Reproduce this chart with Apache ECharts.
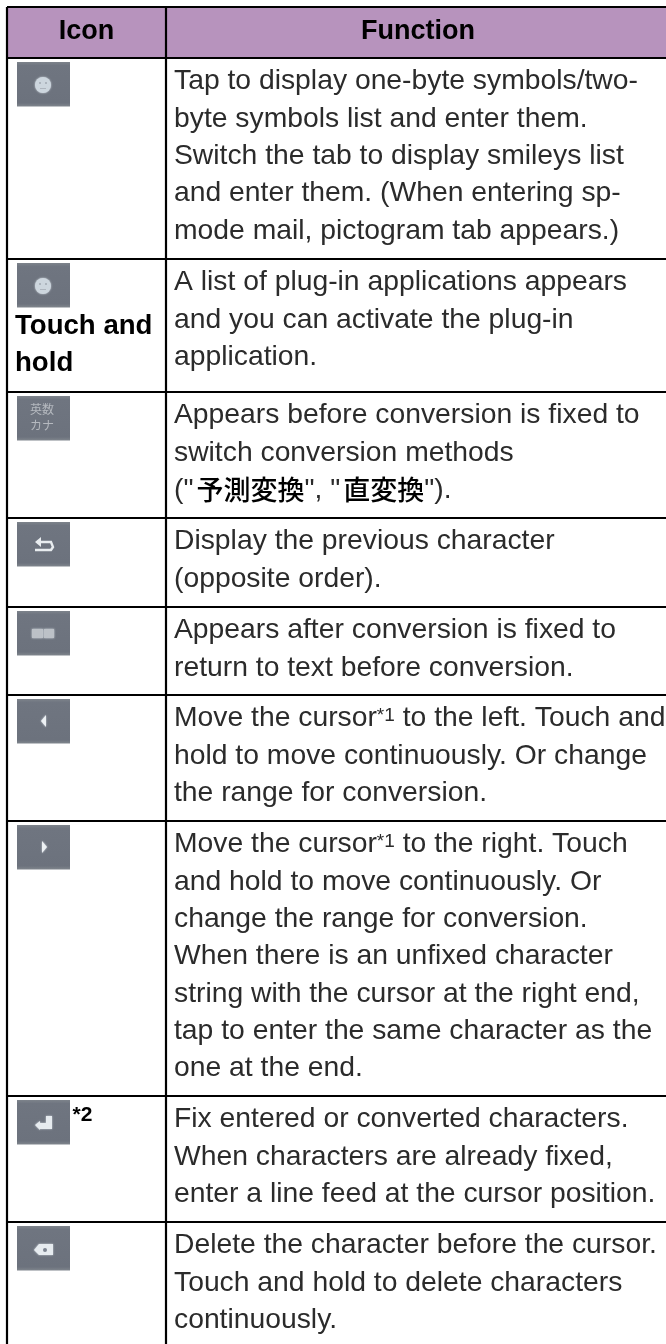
<!DOCTYPE html>
<html><head><meta charset="utf-8">
<style>html,body{margin:0;padding:0;background:#fff}#c{width:666px;height:1344px;filter:blur(0.45px)}</style>
<script src="https://cdn.jsdelivr.net/npm/echarts@6/dist/echarts.min.js"></script>
</head><body><div id="c"></div>
<script>
const headers = ['Icon', 'Function'];
const rowEdges = [58, 259, 392, 518, 607, 695, 821, 1096, 1222, 1344];
const iconKinds = ['smile', 'smile', 'kana', 'undo', 'revert', 'left', 'right', 'enter', 'del'];
const iconNotes = [[], ['Touch and', 'hold'], [], [], [], [], [], [], []];
const iconMarks = ['', '', '', '', '', '', '', '*2', ''];
const functionLines = [
  ['Tap to display one-byte symbols/two-', 'byte symbols list and enter them.', 'Switch the tab to display smileys list', 'and enter them. (When entering sp-', 'mode mail, pictogram tab appears.)'],
  ['A list of plug-in applications appears', 'and you can activate the plug-in', 'application.'],
  ['Appears before conversion is fixed to', 'switch conversion methods', '("{cjk|予測変換}", "{cjk|直変換}").'],
  ['Display the previous character', '(opposite order).'],
  ['Appears after conversion is fixed to', 'return to text before conversion.'],
  ['Move the cursor{sup|*1} to the left. Touch and', 'hold to move continuously. Or change', 'the range for conversion.'],
  ['Move the cursor{sup|*1} to the right. Touch', 'and hold to move continuously. Or', 'change the range for conversion.', 'When there is an unfixed character', 'string with the cursor at the right end,', 'tap to enter the same character as the', 'one at the end.'],
  ['Fix entered or converted characters.', 'When characters are already fixed,', 'enter a line feed at the cursor position.'],
  ['Delete the character before the cursor.', 'Touch and hold to delete characters', 'continuously.']
];

const FONT = '"Liberation Sans","Noto Sans CJK JP",sans-serif';
const W = 666, H = 1344, TOP = 7, LEFT = 7, COL = 166;
const FS = 28.3, BFS = 27.6, LH = 37.3, TEXT = '#2b2b2b';

function glyph(kind, c) {
  const pale = '#d6dde4', blur = {shadowBlur: 2, shadowColor: pale};
  const cx = c[0] + 26, cy = c[1] + 22;
  switch (kind) {
    case 'smile': return [
      {type: 'circle', shape: {cx, cy: cy + 1, r: 8}, style: {fill: '#cdd6de', ...blur}},
      {type: 'circle', shape: {cx: cx - 3, cy: cy - 1, r: 1}, style: {fill: '#a0a8b2'}},
      {type: 'circle', shape: {cx: cx + 3, cy: cy - 1, r: 1}, style: {fill: '#a0a8b2'}},
      {type: 'rect', shape: {x: cx - 3, y: cy + 4, width: 6, height: 1}, style: {fill: '#aeb5be'}}
    ];
    case 'kana': return [
      {type: 'text', style: {text: '英数', x: cx - 1, y: cy - 7, align: 'center', verticalAlign: 'middle', fill: '#b5b9bf', font: '12px ' + FONT}},
      {type: 'text', style: {text: 'カナ', x: cx - 1, y: cy + 9, align: 'center', verticalAlign: 'middle', fill: '#b5b9bf', font: '12px ' + FONT}}
    ];
    case 'undo': return [
      {type: 'polyline', shape: {points: [[cx - 8, cy + 6], [cx + 8, cy + 6], [cx + 10, cy + 3], [cx + 8, cy - 2], [cx - 6, cy - 2]]}, style: {stroke: '#e8ecef', lineWidth: 2.4, fill: null}},
      {type: 'polygon', shape: {points: [[cx - 8, cy - 2], [cx - 2, cy - 7], [cx - 2, cy + 3]]}, style: {fill: '#e8ecef'}}
    ];
    case 'revert': return [
      {type: 'rect', shape: {x: cx - 11, y: cy - 4, width: 11, height: 9}, style: {fill: '#bcc1c7', ...blur}},
      {type: 'rect', shape: {x: cx + 1, y: cy - 4, width: 10, height: 9}, style: {fill: '#bcc1c7', ...blur}}
    ];
    case 'left': return [
      {type: 'polygon', shape: {points: [[cx - 2, cy], [cx + 3, cy - 6], [cx + 3, cy + 6]]}, style: {fill: '#edf1f4', ...blur}}
    ];
    case 'right': return [
      {type: 'polygon', shape: {points: [[cx + 4, cy], [cx - 1, cy - 6], [cx - 1, cy + 6]]}, style: {fill: '#edf1f4', ...blur}}
    ];
    case 'enter': return [
      {type: 'polygon', shape: {points: [[cx - 8, cy + 3], [cx - 3, cy - 1], [cx - 3, cy + 1], [cx + 3, cy + 1], [cx + 3, cy - 6], [cx + 9, cy - 6], [cx + 9, cy + 7], [cx - 3, cy + 7], [cx - 3, cy + 8]]}, style: {fill: '#e6ebef', ...blur}}
    ];
    default: return [
      {type: 'polygon', shape: {points: [[cx - 9, cy + 2], [cx - 4, cy - 4], [cx + 10, cy - 4], [cx + 10, cy + 7], [cx - 4, cy + 7]]}, style: {fill: '#e6ebef', ...blur}},
      {type: 'circle', shape: {cx: cx + 2, cy: cy + 2, r: 2}, style: {fill: '#7d8490'}}
    ];
  }
}

function renderRow(params, api) {
  const i = api.value(0);
  const top = rowEdges[i], bottom = rowEdges[i + 1];
  const o = api.coord([LEFT, top]);
  const col = api.coord([COL, top])[0], end = api.coord([W, bottom]);
  const kids = [];
  if (i < rowEdges.length - 2) kids.push({type: 'line', shape: {x1: o[0], y1: end[1], x2: end[0], y2: end[1]}, style: {stroke: '#000', lineWidth: 2.2}});
  const ic = api.coord([17, top + 4]);
  kids.push({type: 'rect', shape: {x: ic[0], y: ic[1], width: 53, height: 44.5}, style: {
    fill: new echarts.graphic.LinearGradient(0, 0, 0, 1, [{offset: 0, color: '#7d838b'}, {offset: 0.08, color: '#6f7580'}, {offset: 0.92, color: '#6c727d'}, {offset: 1, color: '#80868d'}])
  }});
  glyph(iconKinds[i], ic).forEach(g => kids.push(g));
  iconNotes[i].forEach((t, k) => kids.push({type: 'text', style: {text: t, x: api.coord([15, 0])[0], y: api.coord([0, top + 67.5 + k * LH])[1], verticalAlign: 'middle', fill: '#000', font: 'bold ' + BFS + 'px ' + FONT}}));
  if (iconMarks[i]) kids.push({type: 'text', style: {text: iconMarks[i], x: ic[0] + 55.5, y: ic[1] + 15, verticalAlign: 'middle', fill: '#000', font: 'bold 21px ' + FONT}});
  functionLines[i].forEach((t, k) => kids.push({type: 'text', style: {
    text: t, x: col + 8, y: api.coord([0, top + 23.5 + k * LH])[1], verticalAlign: 'middle', fill: TEXT, font: FS + 'px ' + FONT,
    rich: {
      sup: {fontSize: 19, verticalAlign: 'top', lineHeight: 19, fill: TEXT, fontFamily: FONT, padding: [2, 0, 0, 0]},
      cjk: {fontSize: 27, fontWeight: 500, fill: '#000', fontFamily: '"Noto Sans CJK JP"', padding: [0, 0, 0, 3]}
    }
  }}));
  return {type: 'group', children: kids};
}

function renderFrame(params, api) {
  const a = api.coord([LEFT, TOP]), b = api.coord([W, rowEdges[0]]);
  const col = api.coord([COL, 0])[0], bot = api.coord([0, H])[1];
  const line = (x1, y1, x2, y2) => ({type: 'line', shape: {x1, y1, x2, y2}, style: {stroke: '#000', lineWidth: 2.2}});
  return {type: 'group', children: [
    {type: 'rect', shape: {x: a[0], y: a[1], width: b[0] - a[0], height: b[1] - a[1]}, style: {fill: '#b793bd'}},
    line(a[0], a[1], b[0], a[1]),
    line(a[0], b[1], b[0], b[1]),
    line(a[0], a[1], a[0], bot),
    line(col, a[1], col, bot),
    {type: 'text', style: {text: headers[0], x: (a[0] + col) / 2, y: 32, align: 'center', verticalAlign: 'middle', fill: '#000', font: 'bold 27px ' + FONT}},
    {type: 'text', style: {text: headers[1], x: 418, y: 32, align: 'center', verticalAlign: 'middle', fill: '#000', font: 'bold 27px ' + FONT}}
  ]};
}

const chart = echarts.init(document.getElementById('c'), null, {renderer: 'canvas'});
chart.setOption({
  animation: false,
  backgroundColor: '#fff',
  grid: {left: 0, right: 0, top: 0, bottom: 0},
  xAxis: {type: 'value', min: 0, max: W, show: false},
  yAxis: {type: 'value', min: 0, max: H, inverse: true, show: false},
  series: [
    {type: 'custom', silent: true, clip: false, coordinateSystem: 'cartesian2d', renderItem: renderRow, encode: {x: 1, y: 2},
     data: iconKinds.map((k, i) => [i, LEFT, rowEdges[i]])},
    {type: 'custom', silent: true, clip: false, coordinateSystem: 'cartesian2d', renderItem: renderFrame, encode: {x: 0, y: 1}, data: [[LEFT, TOP]]}
  ]
});
</script></body></html>
